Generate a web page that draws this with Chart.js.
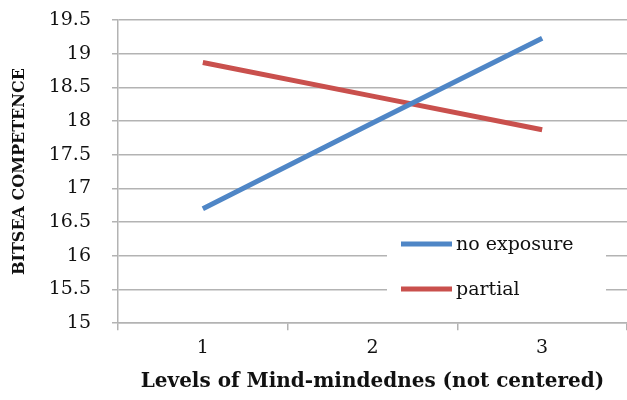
<!DOCTYPE html>
<html>
<head>
<meta charset="utf-8">
<script src="https://cdn.jsdelivr.net/npm/chart.js@4"></script>
<style>
  html, body { margin: 0; padding: 0; background: #fff; }
  #wrap { width: 627px; height: 400px; }
</style>
</head>
<body>
<div id="wrap"><canvas id="c"></canvas></div>
<script>
const levels = ["1", "2", "3"];
const noExposure = [16.7, 17.97, 19.23];
const partial = [18.87, 18.37, 17.87];
const seriesNames = ["no exposure", "partial"];

const grey = "#b3b3b3";
const serif = "'DejaVu Serif', 'Liberation Serif', serif";

// legend drawn inside the plot, on a white box
const innerLegend = {
    id: "innerLegend",
    afterDatasetsDraw(chart) {
        const c = chart.ctx;
        c.save();
        c.fillStyle = "#fff";
        c.fillRect(387, 226, 219, 80);
        chart.data.datasets.forEach((ds, i) => {
            const y = 244 + i * 45;
            c.strokeStyle = ds.borderColor;
            c.lineWidth = 5;
            c.beginPath();
            c.moveTo(401, y);
            c.lineTo(452, y);
            c.stroke();
            c.fillStyle = "#111";
            c.font = "19px " + serif;
            c.textBaseline = "middle";
            c.fillText(ds.label, 456, y + 1);
        });
        c.restore();
    },
};

new Chart(document.getElementById("c"), {
    type: "line",
    data: {
        labels: levels,
        datasets: [
            { label: seriesNames[0], data: noExposure, borderColor: "#4f86c6", borderWidth: 5, pointRadius: 0, tension: 0 },
            { label: seriesNames[1], data: partial, borderColor: "#c9504d", borderWidth: 5, pointRadius: 0, tension: 0 },
        ],
    },
    options: {
        responsive: true,
        maintainAspectRatio: false,
        animation: false,
        layout: { padding: { top: 20, right: 0, left: 10, bottom: 6 } },
        plugins: { legend: { display: false }, tooltip: { enabled: false } },
        scales: {
            x: {
                offset: true,
                grid: { offset: true, drawOnChartArea: false, color: grey, lineWidth: 1.5, tickLength: 7 },
                border: { color: grey, width: 1.5 },
                ticks: { color: "#111", font: { family: serif, size: 19 }, padding: 6 },
                title: {
                    display: true,
                    text: "Levels of Mind-mindednes (not centered)",
                    color: "#111",
                    font: { family: serif, size: 20, weight: "bold" },
                    padding: { top: 5, bottom: 0 },
                },
            },
            y: {
                min: 15,
                max: 19.5,
                ticks: {
                    stepSize: 0.5,
                    color: "#111",
                    font: { family: serif, size: 19 },
                    padding: 21,
                    callback: (v) => String(v),
                },
                grid: { color: grey, lineWidth: 1.5, tickLength: 6 },
                border: { color: grey, width: 1.5 },
                title: {
                    display: true,
                    text: "BITSEA COMPETENCE",
                    color: "#111",
                    font: { family: serif, size: 16, weight: "bold" },
                    padding: { top: 0, bottom: 0 },
                },
                afterFit(scale) {
                    scale.width = 108;
                    scale.paddingTop = 0;
                    scale.paddingBottom = 0;
                },
            },
        },
    },
    plugins: [innerLegend],
});
</script>
</body>
</html>
